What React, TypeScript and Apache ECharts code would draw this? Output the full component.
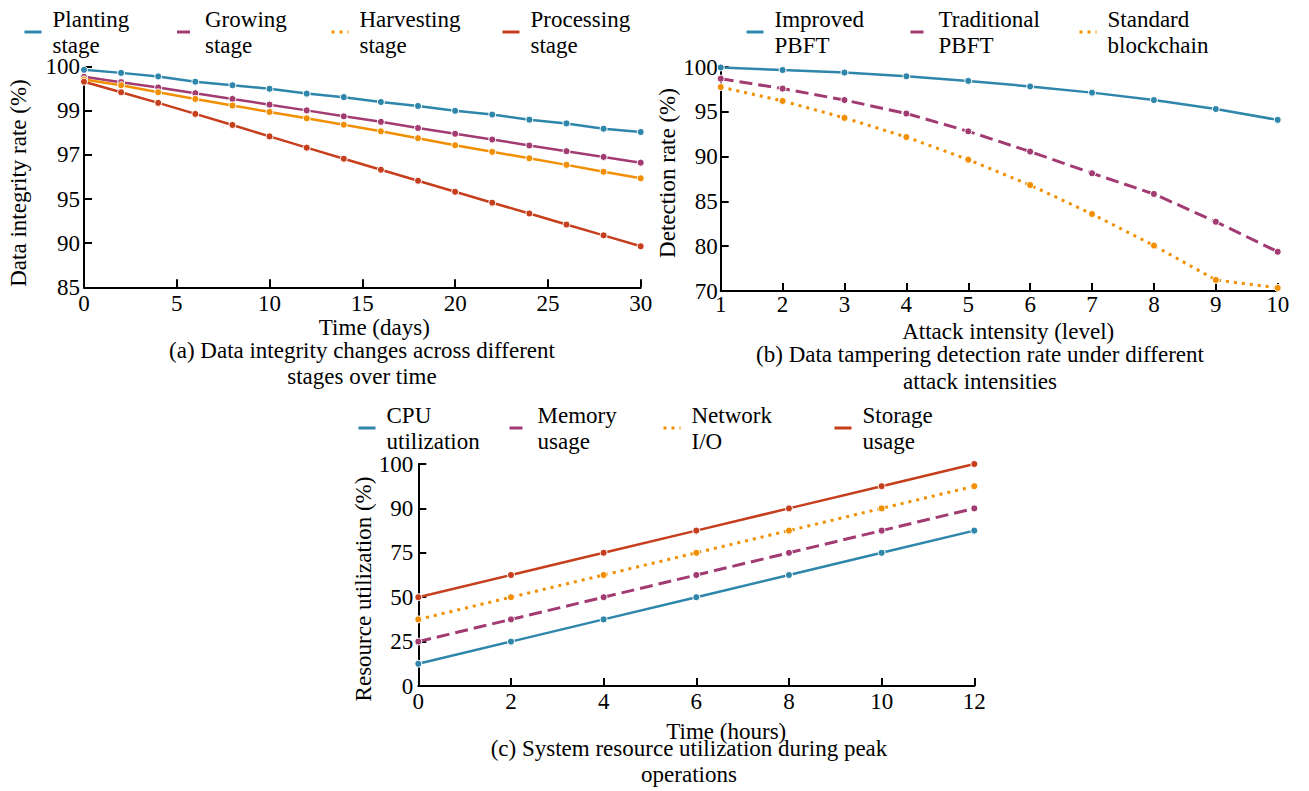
import React, { useEffect, useRef } from 'react';
import * as echarts from 'echarts';

const FONT = 'Liberation Serif';
const BLUE = '#2E86AB';
const PURPLE = '#A23B72';
const ORANGE = '#F18F01';
const RED = '#C73E1D';

// Panel (a)
const daysA = [0, 2, 4, 6, 8, 10, 12, 14, 16, 18, 20, 22, 24, 26, 28, 30];
const ticksA = [85, 90, 95, 97, 99, 100];
const xTicksA = [0, 5, 10, 15, 20, 25, 30];
const planting = [99.93, 99.86, 99.78, 99.66, 99.58, 99.5, 99.39, 99.31, 99.2, 99.11, 99.0, 98.83, 98.6, 98.43, 98.19, 98.04];
const growing = [99.77, 99.65, 99.53, 99.4, 99.27, 99.14, 99.01, 98.75, 98.5, 98.22, 97.96, 97.7, 97.43, 97.17, 96.91, 96.65];
const harvesting = [99.71, 99.58, 99.42, 99.27, 99.12, 98.95, 98.66, 98.37, 98.07, 97.76, 97.44, 97.14, 96.85, 96.55, 96.24, 95.94];
const processing = [99.66, 99.42, 99.18, 98.86, 98.36, 97.84, 97.33, 96.83, 96.33, 95.83, 95.33, 94.59, 93.37, 92.11, 90.89, 89.65];

// Panel (b)
const levelsB = [1, 2, 3, 4, 5, 6, 7, 8, 9, 10];
const ticksB = [70, 80, 85, 90, 95, 100];
const improved = [99.95, 99.66, 99.38, 98.96, 98.45, 97.83, 97.14, 96.31, 95.31, 94.1];
const traditional = [98.7, 97.59, 96.31, 94.81, 92.82, 90.56, 88.14, 85.83, 82.73, 78.76];
const standard = [97.76, 96.21, 94.32, 92.18, 89.66, 86.82, 83.59, 80.07, 72.47, 70.69];

// Panel (c)
const hoursC = [0, 2, 4, 6, 8, 10, 12];
const ticksC = [0, 25, 50, 75, 90, 100];
const cpu = [12.5, 25, 37.5, 50, 62.5, 75, 82.5];
const memory = [25, 37.5, 50, 62.5, 75, 82.5, 90];
const network = [37.5, 50, 62.5, 75, 82.5, 90, 95];
const storage = [50, 62.5, 75, 82.5, 90, 95, 100];

// y axes use evenly spaced ticks whose labels are the (irregular) values above
function toAxis(v: number, ticks: number[]): number {
  for (let i = 0; i < ticks.length - 1; i++) {
    if (v <= ticks[i + 1] || i === ticks.length - 2) {
      return i + (v - ticks[i]) / (ticks[i + 1] - ticks[i]);
    }
  }
  return 0;
}

const DASH = [13, 6];
const DOT = [3, 5];

function lineSeries(name: string, xs: number[], ys: number[], ticks: number[], color: string, idx: number, type: any) {
  return {
    type: 'line',
    name,
    xAxisIndex: idx,
    yAxisIndex: idx,
    data: xs.map((x, i) => [x, toAxis(ys[i], ticks)]),
    symbol: 'circle',
    symbolSize: 7,
    itemStyle: { color, borderColor: '#fff', borderWidth: 1 },
    lineStyle: { color, width: type === 'solid' ? 2.5 : 3, type },
    z: 3,
  };
}

const txt = { fontFamily: FONT, fontSize: 23, color: '#000' };

function legendItem(name: string, left: number, top: number, lineType?: any) {
  const item: any = { name };
  if (lineType) item.lineStyle = { type: lineType };
  return {
    data: [item],
    left,
    top,
    padding: 0,
    itemWidth: 17,
    itemHeight: 8,
    itemGap: 0,
    selectedMode: false,
    formatter: (n: string) => n.replace(' ', '\n'),
    textStyle: { ...txt, lineHeight: 26, padding: [0, 0, 0, 6] },
    itemStyle: { opacity: 0 },
    lineStyle: { width: 3 },
  };
}

function xAxis(idx: number, min: number, max: number, interval: number, name: string, nameGap: number, shift: number, margin: number) {
  return {
    type: 'value',
    gridIndex: idx,
    min,
    max,
    interval,
    name,
    nameLocation: 'middle',
    nameGap,
    nameTextStyle: { ...txt, padding: [0, 0, 0, shift * 2] },
    axisLine: { show: true, onZero: false, lineStyle: { color: '#000', width: 2 } },
    axisTick: { show: true, inside: true, length: 8, lineStyle: { color: '#000', width: 2 } },
    axisLabel: { ...txt, margin },
    splitLine: { show: false },
  };
}

function yAxis(idx: number, ticks: number[], name: string, nameGap: number, down: number, margin: number) {
  const pad = down >= 0 ? [0, down * 2, 0, 0] : [0, 0, 0, -down * 2];
  return {
    type: 'value',
    gridIndex: idx,
    min: 0,
    max: ticks.length - 1,
    interval: 1,
    name,
    nameLocation: 'middle',
    nameGap,
    nameTextStyle: { ...txt, padding: pad },
    axisLine: { show: true, onZero: false, lineStyle: { color: '#000', width: 2 } },
    axisTick: { show: true, inside: true, length: 8, lineStyle: { color: '#000', width: 2 } },
    axisLabel: { ...txt, margin, formatter: (v: number) => String(ticks[Math.round(v)]) },
    splitLine: { show: false },
  };
}

function caption(text: string, x: number, y: number) {
  return {
    type: 'text',
    x,
    y,
    style: {
      text,
      fontFamily: FONT,
      fontSize: 23,
      fill: '#000',
      textAlign: 'center',
      textVerticalAlign: 'middle',
      align: 'center',
      verticalAlign: 'middle',
    },
  };
}

export default function App() {
  const ref = useRef<HTMLDivElement>(null);
  useEffect(() => {
    if (!ref.current) return;
    const chart = echarts.init(ref.current, null, { renderer: 'svg' });
    const option: any = {
      animation: false,
      backgroundColor: '#fff',
      textStyle: { fontFamily: FONT },
      grid: [
        { left: 84, top: 66.7, width: 556.7, height: 220.6 },
        { left: 720.7, top: 67, width: 557, height: 224 },
        { left: 418.3, top: 464, width: 556, height: 222 },
      ],
      legend: [
        legendItem('Planting stage', 23, 6, 'solid'),
        legendItem('Growing stage', 175.5, 6, DASH),
        legendItem('Harvesting stage', 330, 6, DOT),
        legendItem('Processing stage', 501, 6, 'solid'),
        legendItem('Improved PBFT', 745, 6),
        legendItem('Traditional PBFT', 909, 6),
        legendItem('Standard blockchain', 1078, 6),
        legendItem('CPU utilization', 357, 402),
        legendItem('Memory usage', 508, 402),
        legendItem('Network I/O', 662, 402),
        legendItem('Storage usage', 833, 402),
      ],
      xAxis: [
        xAxis(0, xTicksA[0], xTicksA[xTicksA.length - 1], xTicksA[1] - xTicksA[0], 'Time (days)', 29, 12, 5),
        xAxis(1, levelsB[0], levelsB[levelsB.length - 1], 1, 'Attack intensity (level)', 29, 9, 2),
        xAxis(2, hoursC[0], hoursC[hoursC.length - 1], 2, 'Time (hours)', 34, 30, 4),
      ],
      yAxis: [
        yAxis(0, ticksA, 'Data integrity rate (%)', 54, 6, 4),
        yAxis(1, ticksB, 'Detection rate (%)', 35, -6, 3),
        yAxis(2, ticksC, 'Resource utilization (%)', 35, 14, 5),
      ],
      series: [
        lineSeries('Planting stage', daysA, planting, ticksA, BLUE, 0, 'solid'),
        lineSeries('Growing stage', daysA, growing, ticksA, PURPLE, 0, 'solid'),
        lineSeries('Harvesting stage', daysA, harvesting, ticksA, ORANGE, 0, 'solid'),
        lineSeries('Processing stage', daysA, processing, ticksA, RED, 0, 'solid'),
        lineSeries('Improved PBFT', levelsB, improved, ticksB, BLUE, 1, 'solid'),
        lineSeries('Traditional PBFT', levelsB, traditional, ticksB, PURPLE, 1, DASH),
        lineSeries('Standard blockchain', levelsB, standard, ticksB, ORANGE, 1, DOT),
        lineSeries('CPU utilization', hoursC, cpu, ticksC, BLUE, 2, 'solid'),
        lineSeries('Memory usage', hoursC, memory, ticksC, PURPLE, 2, DASH),
        lineSeries('Network I/O', hoursC, network, ticksC, ORANGE, 2, DOT),
        lineSeries('Storage usage', hoursC, storage, ticksC, RED, 2, 'solid'),
      ],
      graphic: [
        caption('(a) Data integrity changes across different', 362, 350),
        caption('stages over time', 362, 376),
        caption('(b) Data tampering detection rate under different', 980, 354),
        caption('attack intensities', 980, 381),
        caption('(c) System resource utilization during peak', 689, 748),
        caption('operations', 689, 774),
      ],
    };
    chart.setOption(option);
    return () => chart.dispose();
  }, []);
  return (
    <div
      ref={ref}
      style={{ position: 'fixed', left: 0, top: 0, width: 1309, height: 791, background: '#fff' }}
    />
  );
}
